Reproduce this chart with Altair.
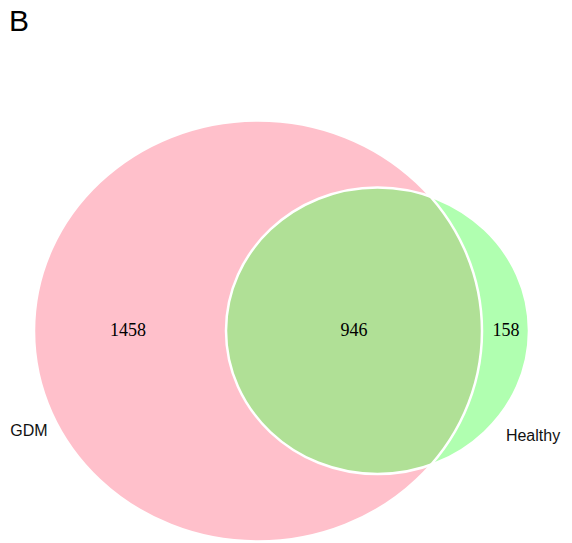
import altair as alt
import pandas as pd

# ---- data ----
set_names = ["GDM", "Healthy"]
region_names = ["GDM only", "GDM & Healthy", "Healthy only"]
region_counts = [1458, 946, 158]
panel_letter = ["B"]

# ---- styles ----
set_colors = ["#FFC0CB", "#61FF61"]
set_fill_opacity = [1.0, 0.5]

# ---- diagram layout (pixel space, y downward) ----
ell_cx = [258, 377.5]
ell_cy = [331, 330.75]
ell_rx = [224, 151.5]
ell_ry = [210.5, 143.25]
count_x = [128, 354, 506]
count_y = [331, 331, 331]
label_x = [29, 533]
label_y = [431, 436]
letter_x = [9]
letter_y = [22]

W, H = 572, 543
xs = alt.Scale(domain=[0, W], range=[0, W])
ys = alt.Scale(domain=[0, H], range=[0, H])


def ellipse_path(rx, ry):
    r = ry / rx
    return f"M -1 0 A 1 {r:.5f} 0 1 0 1 0 A 1 {r:.5f} 0 1 0 -1 0 Z"


layers = []
# fills
for i, name in enumerate(set_names):
    df = pd.DataFrame({"set": [name], "x": [ell_cx[i]], "y": [ell_cy[i]]})
    layers.append(
        alt.Chart(df).mark_point(
            shape=ellipse_path(ell_rx[i], ell_ry[i]),
            size=(2 * ell_rx[i]) ** 2,
            filled=True,
            fill=set_colors[i],
            fillOpacity=set_fill_opacity[i],
            opacity=1,
            strokeWidth=0,
        ).encode(x=alt.X("x:Q", scale=xs, axis=None), y=alt.Y("y:Q", scale=ys, axis=None))
    )
# outlines
for i, name in enumerate(set_names):
    df = pd.DataFrame({"set": [name], "x": [ell_cx[i]], "y": [ell_cy[i]]})
    layers.append(
        alt.Chart(df).mark_point(
            shape=ellipse_path(ell_rx[i], ell_ry[i]),
            size=(2 * ell_rx[i]) ** 2,
            filled=False,
            fill="transparent",
            stroke="white",
            strokeWidth=2.5,
            opacity=1,
        ).encode(x=alt.X("x:Q", scale=xs, axis=None), y=alt.Y("y:Q", scale=ys, axis=None))
    )

counts_df = pd.DataFrame({
    "region": region_names,
    "count": [str(c) for c in region_counts],
    "x": count_x,
    "y": count_y,
})
layers.append(
    alt.Chart(counts_df).mark_text(
        font="Liberation Serif", fontSize=18, color="black", align="center", baseline="middle"
    ).encode(x=alt.X("x:Q", scale=xs, axis=None), y=alt.Y("y:Q", scale=ys, axis=None), text="count:N")
)

labels_df = pd.DataFrame({"set": set_names, "x": label_x, "y": label_y})
layers.append(
    alt.Chart(labels_df).mark_text(
        font="Liberation Sans", fontSize=16, color="#111111", align="center", baseline="middle"
    ).encode(x=alt.X("x:Q", scale=xs, axis=None), y=alt.Y("y:Q", scale=ys, axis=None), text="set:N")
)

letter_df = pd.DataFrame({"t": panel_letter, "x": letter_x, "y": letter_y})
layers.append(
    alt.Chart(letter_df).mark_text(
        font="Liberation Sans", fontSize=30, color="black", align="left", baseline="middle"
    ).encode(x=alt.X("x:Q", scale=xs, axis=None), y=alt.Y("y:Q", scale=ys, axis=None), text="t:N")
)

chart = alt.layer(*layers).properties(
    width=W, height=H, padding=0, autosize="none", background="white"
).configure_view(stroke=None)

chart.save("out.html", embed_options={"renderer": "svg", "actions": False})
